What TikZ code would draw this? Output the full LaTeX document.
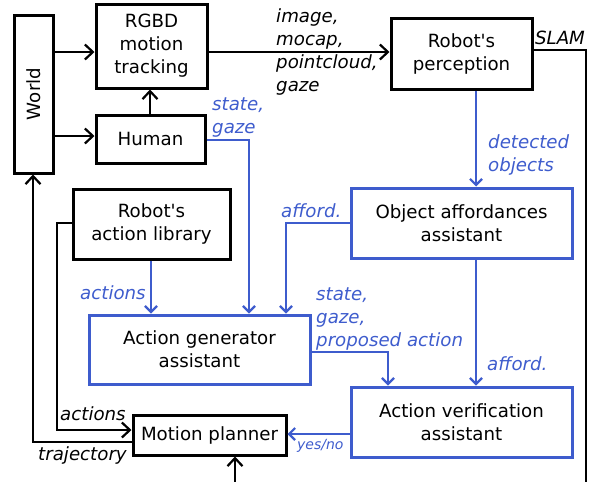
\documentclass[tikz,border=0pt]{standalone}
\usepackage{fontspec}
\setmainfont{DejaVu Sans}[Ligatures=TeXOff]
\usetikzlibrary{arrows.meta}
\definecolor{myblue}{RGB}{62,92,205}
\begin{document}
\begin{tikzpicture}[x=1pt,y=-1pt,
  box/.style={draw=black, line width=3pt, align=center, inner sep=0pt, font=\fontsize{18.2}{23}\selectfont, text=black},
  bbox/.style={box, draw=myblue},
  conn/.style={line width=2.2pt, -{Straight Barb[length=8pt,width=15pt]}},
  bconn/.style={conn, draw=myblue, -{Straight Barb[length=6pt,width=12pt]}},
  plain/.style={line width=2.2pt},
  lab/.style={inner sep=0pt, align=left, font=\fontsize{18.2}{23}\selectfont\itshape},
  blab/.style={lab, text=myblue}
]
\useasboundingbox (0,0) rectangle (592,482);

% boxes
\node[box, minimum width=39, minimum height=158] (world) at (33.5,94) {\rotatebox{90}{World}};
\node[box, minimum width=111, minimum height=84] (rgbd) at (151.5,46) {RGBD\\motion\\tracking};
\node[box, minimum width=109, minimum height=48] (human) at (150.5,139) {Human};
\node[box, minimum width=141, minimum height=71] (perc) at (461.5,53.5) {Robot's\\perception};
\node[bbox, minimum width=221, minimum height=70] (oa) at (461.5,223) {Object affordances\\assistant};
\node[box, minimum width=157, minimum height=70] (ral) at (151.5,224) {Robot's\\action library};
\node[bbox, minimum width=221, minimum height=69] (ag) at (199.5,349.5) {Action generator\\assistant};
\node[bbox, minimum width=221, minimum height=70] (av) at (461.5,422) {Action verification\\assistant};
\node[box, minimum width=153, minimum height=40] (mp) at (209.5,435) {Motion planner};

\coordinate (slamend) at (586,482);
\coordinate (mpin) at (235,482);

% black connectors
\draw[conn] (world.east |- 0,52) -- (rgbd.west |- 0,52);
\draw[conn] (world.east |- 0,136) -- (human.west |- 0,136);
\draw[conn] (human.north -| 150,0) -- (rgbd.south -| 150,0);
\draw[conn] (rgbd.east |- 0,52) -- (perc.west |- 0,52);
\draw[plain] (perc.east |- 0,50) -| (slamend);
\draw[conn] (ral.west |- 0,223) -| (57,430) -- (mp.west |- 0,430);
\draw[conn] (mp.west |- 0,442) -| (world.south -| 33,0);
\draw[conn] (mpin) -- (mp.south -| mpin);

% blue connectors
\draw[bconn] (perc.south -| 476,0) -- (oa.north -| 476,0);
\draw[bconn] (oa.west |- 0,223) -| (ag.north -| 286,0);
\draw[bconn] (human.east |- 0,140) -| (ag.north -| 249,0);
\draw[bconn] (ral.south -| 151,0) -- (ag.north -| 151,0);
\draw[bconn] (ag.east |- 0,352) -| (av.north -| 388,0);
\draw[bconn] (oa.south -| 476,0) -- (av.north -| 476,0);
\draw[bconn] (av.west |- 0,434) -- (mp.east |- 0,434);

% labels
\node[lab, anchor=west] (limg) at (276,52) {image,\\mocap,\\pointcloud,\\gaze};
\node[lab] (lslam) at (560,38) {SLAM};
\node[blab, anchor=west] (lsg) at (212,117.5) {state,\\gaze};
\node[blab, anchor=west] (ldet) at (488,155) {detected\\objects};
\node[blab, anchor=west] (laff1) at (281,211) {afford.};
\node[blab, anchor=west] (lact1) at (80,293) {actions};
\node[blab, anchor=west] (lsgp) at (316,319) {state,\\gaze,\\proposed action};
\node[blab, anchor=west] (laff2) at (487,364) {afford.};
\node[blab, anchor=west, font=\fontsize{14}{17}\selectfont\itshape] (lyes) at (297,446) {yes/no};
\node[lab, anchor=west] (lact2) at (60,414) {actions};
\node[lab, anchor=west] (ltraj) at (38,455) {trajectory};
\end{tikzpicture}
\end{document}
